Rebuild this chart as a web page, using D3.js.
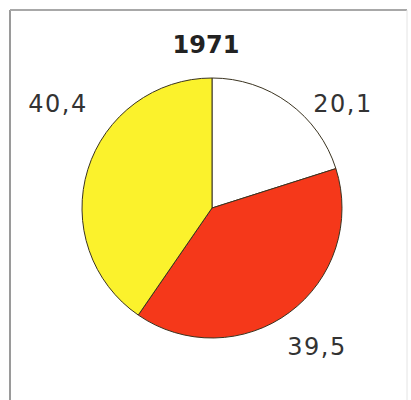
<!DOCTYPE html>
<html><head><meta charset="utf-8">
<script src="https://cdn.jsdelivr.net/npm/d3@7"></script>
<style>body{margin:0;background:#fff}svg{display:block}</style>
</head><body>
<script>
const title = "1971";
const categories = ["A", "B", "C"];
const values = [20.1, 39.5, 40.4];
const labels = ["20,1", "39,5", "40,4"];
const colors = ["#ffffff", "#f5381a", "#fbf22c"];

const W = 411, H = 400;
const svg = d3.select("body").append("svg").attr("width", W).attr("height", H);

// frame
svg.append("line").attr("x1",10).attr("y1",10).attr("x2",10).attr("y2",H).attr("stroke","#9a9a9a").attr("stroke-width",2);
svg.append("line").attr("x1",10).attr("y1",10).attr("x2",407).attr("y2",10).attr("stroke","#a8a8a8").attr("stroke-width",2);
svg.append("line").attr("x1",407).attr("y1",10).attr("x2",407).attr("y2",H).attr("stroke","#e4e4e4").attr("stroke-width",1);

const cx = 212, cy = 208, R = 130;
const g = svg.append("g").attr("transform", `translate(${cx},${cy})`);
const pie = d3.pie().sort(null).value(d => d)(values);
const arc = d3.arc().innerRadius(0).outerRadius(R);
g.selectAll("path").data(pie).join("path")
  .attr("d", arc)
  .attr("fill", (d,i) => colors[i])
  .attr("stroke", "#3a3320").attr("stroke-width", 1);

svg.append("text").attr("x", 206).attr("y", 53).attr("text-anchor","middle")
  .attr("font-family","DejaVu Sans").attr("font-weight","bold").attr("font-size",24)
  .attr("fill","#222").text(title);

const labelPos = [[343,112],[317,355],[58,112]];
svg.selectAll("text.lab").data(labels).join("text").attr("class","lab")
  .attr("x",(d,i)=>labelPos[i][0]).attr("y",(d,i)=>labelPos[i][1])
  .attr("text-anchor","middle").attr("font-family","DejaVu Sans").attr("font-size",24)
  .attr("letter-spacing",1.5).attr("fill","#333").text(d=>d);
</script>
</body></html>
